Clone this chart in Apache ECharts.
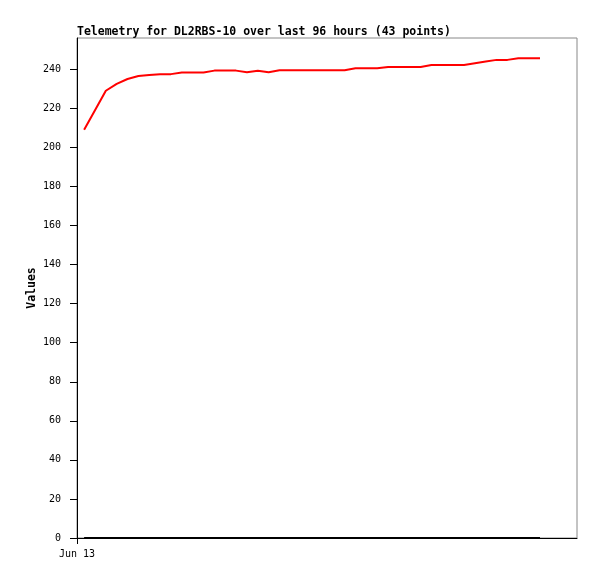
<!DOCTYPE html>
<html>
<head>
<meta charset="utf-8">
<script src="https://cdn.jsdelivr.net/npm/echarts@6/dist/echarts.min.js"></script>
<style>html,body{margin:0;padding:0;background:#fff}#c{width:597px;height:579px}</style>
</head>
<body>
<div id="c"></div>
<script>
// hours since Jun 13 00:00
var hours = [1.5, 3.79, 6.07, 8.36, 10.64, 12.93, 15.22, 17.5, 19.79, 22.07, 24.36, 26.65, 28.93, 31.22, 33.5, 35.79, 38.08, 40.36, 42.65, 44.93, 47.22, 49.51, 51.79, 54.08, 56.36, 58.65, 60.94, 63.22, 65.51, 67.79, 70.08, 72.37, 74.65, 76.94, 79.22, 81.51, 83.8, 86.08, 88.37, 90.65, 92.94, 95.23, 97.51];
var seriesA = [209, 219, 229, 232.5, 235, 236.5, 237, 237.5, 237.5, 238.3, 238.3, 238.3, 239.3, 239.3, 239.3, 238.5, 239.2, 238.5, 239.5, 239.5, 239.5, 239.5, 239.5, 239.5, 239.5, 240.5, 240.5, 240.5, 241.2, 241.2, 241.2, 241.2, 242.2, 242.2, 242.2, 242.2, 243.1, 244, 244.8, 244.8, 245.6, 245.6, 245.6];
var seriesB = [0, 0, 0, 0, 0, 0, 0, 0, 0, 0, 0, 0, 0, 0, 0, 0, 0, 0, 0, 0, 0, 0, 0, 0, 0, 0, 0, 0, 0, 0, 0, 0, 0, 0, 0, 0, 0, 0, 0, 0, 0, 0, 0];
var yTicks = [0, 20, 40, 60, 80, 100, 120, 140, 160, 180, 200, 220, 240];
var xTickValues = [0];
var xTickLabels = ['Jun 13'];
var titleText = 'Telemetry for DL2RBS-10 over last 96 hours (43 points)';
var yName = 'Values';

function pairs(xs, ys) { return xs.map(function (x, i) { return [x, ys[i]]; }); }

var chart = echarts.init(document.getElementById('c'), null, { renderer: 'canvas' });
chart.setOption({
  animation: false,
  backgroundColor: '#ffffff',
  title: {
    text: titleText, left: 77, top: 26, padding: 0,
    textStyle: { fontFamily: 'DejaVu Sans Mono', fontWeight: 'bold', fontSize: 11.5, color: '#000' }
  },
  graphic: [{
    type: 'text', x: 32, y: 288, rotation: Math.PI / 2,
    style: { text: yName, align: 'center', verticalAlign: 'middle', fill: '#000',
      font: 'bold 11.5px "DejaVu Sans Mono"' }
  }],
  grid: { left: 77, top: 38, width: 500, height: 500, show: true, borderColor: '#888', borderWidth: 1, backgroundColor: 'transparent' },
  xAxis: {
    type: 'value', min: 0, max: 105.3,
    axisLine: { show: true, onZero: false, lineStyle: { color: '#000', width: 1 } },
    axisTick: { show: true, inside: false, length: 6, customValues: xTickValues, lineStyle: { color: '#000' } },
    axisLabel: {
      show: true, customValues: xTickValues, margin: 11, color: '#000',
      fontFamily: 'DejaVu Sans Mono', fontSize: 10,
      formatter: function (v) { var i = xTickValues.indexOf(v); return i >= 0 ? xTickLabels[i] : ''; }
    },
    splitLine: { show: false }
  },
  yAxis: {
    type: 'value', min: 0, max: 256,
    axisLine: { show: true, lineStyle: { color: '#000', width: 1 } },
    axisTick: { show: true, inside: false, length: 7, customValues: yTicks, lineStyle: { color: '#000' } },
    axisLabel: { show: true, customValues: yTicks, margin: 16, color: '#000', fontFamily: 'DejaVu Sans Mono', fontSize: 10 },
    splitLine: { show: false }
  },
  series: [
    { type: 'line', data: pairs(hours, seriesB), showSymbol: false, lineStyle: { color: '#000', width: 2 }, z: 3 },
    { type: 'line', data: pairs(hours, seriesA), showSymbol: false, lineStyle: { color: '#ff0000', width: 2 }, z: 4 }
  ]
});
</script>
</body>
</html>
